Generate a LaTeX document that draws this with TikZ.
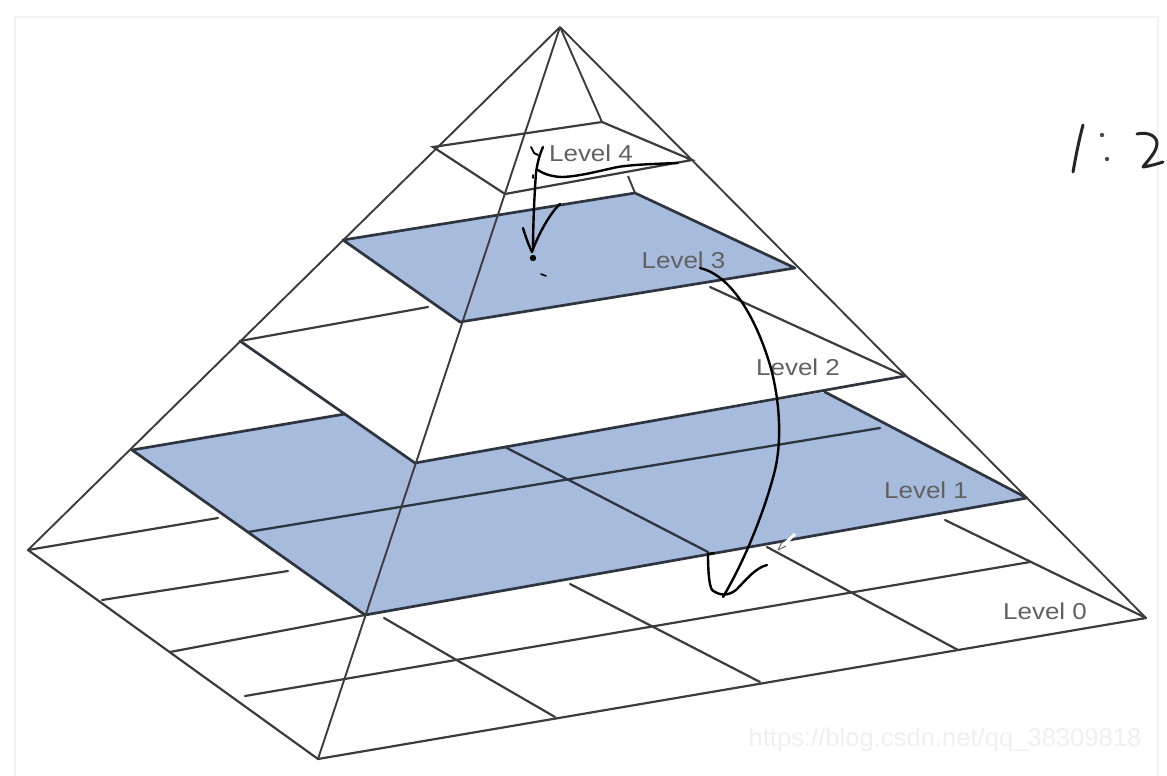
\documentclass[tikz,border=0pt]{standalone}
\usepackage{fontspec}
\setmainfont{Liberation Sans}
\definecolor{bluefill}{HTML}{A7BBDD}
\definecolor{gridline}{HTML}{3C3C3C}
\definecolor{blueline}{HTML}{2F3540}
\tikzset{
  gl/.style={draw=gridline,line width=2.2pt,line cap=round},
  bl/.style={draw=blueline,line width=2.7pt,line cap=round,line join=round},
  spoke/.style={draw=gridline,line width=1.9pt},
  levellabel/.style={text=black!62,font=\fontsize{23}{26}\selectfont,xscale=1.13},
  ink/.style={draw=black,line width=2.4pt,line cap=round,line join=round},
}
\begin{document}
\begin{tikzpicture}[x=1pt,y=-1pt]
\useasboundingbox (0,0) rectangle (1167,776);
\fill[white] (0,0) rectangle (1167,776);
\draw[black!5,line width=2pt] (15,776) -- (15,17) -- (1158,17) -- (1158,776);
% coordinates
\coordinate (A) at (560,27);
\coordinate (L0l) at (28,550);
\coordinate (L0f) at (318,759);
\coordinate (L0r) at (1146,618);
\coordinate (L1l) at (132,450);
\coordinate (L1f) at (365,615);
\coordinate (L1r) at (1027,498);
\coordinate (L1b) at (825,392);
\coordinate (L2l) at (240,341);
\coordinate (L2f) at (415,463);
\coordinate (L2r) at (905,376);
\coordinate (L2x) at (345,414);
\coordinate (L3l) at (343,240);
\coordinate (L3f) at (460,322);
\coordinate (L3r) at (795,268);
\coordinate (L3b) at (635,193);
\coordinate (L4l) at (433,147);
\coordinate (L4f) at (505,194);
\coordinate (L4r) at (692,160);
\coordinate (L4b) at (602,122);
% blue regions
\fill[bluefill] (L1l) -- (L1f) -- (L1r) -- (L1b) -- (L2f) -- (L2x) -- cycle;
\fill[bluefill] (L3l) -- (L3f) -- (L3r) -- (L3b) -- cycle;
% level 0
\draw[gl] (L0l) -- (L0f) -- (L0r);
\draw[gl] (L0l) -- (218,518);
\draw[gl] (102,600) -- (288,571);
\draw[gl] (170,652) -- (L1f);
\draw[gl] (245,696) -- (1030,562);
\draw[gl] (945,520) -- (L0r);
\draw[gl] (767,547) -- (958,650);
\draw[gl] (570,584) -- (760,682);
\draw[gl] (384,618) -- (555,717);
% level 1
\draw[bl] (L2x) -- (L1l) -- (L1f) -- (L1r) -- (L1b);
\draw[bl,line width=2.3pt] (248,532) -- (880,428);
\draw[bl,line width=2.3pt] (505,447) -- (708,552);
% level 2
\draw[bl] (L2l) -- (L2f) -- (L2r);
\draw[gl] (L2l) -- (428,307);
\draw[gl] (710,287) -- (L2r);
% level 3
\draw[bl] (L3l) -- (L3f) -- (L3r) -- (L3b) -- cycle;
% level 4
\draw[gl] (L4l) -- (L4f) -- (L4r) -- (L4b) -- cycle;
% spokes
\draw[spoke] (A) -- (L0l);
\draw[spoke] (A) -- (L0r);
\draw[spoke] (A) -- (L0f);
\draw[spoke] (A) -- (L4b);
\draw[spoke] (628,176) -- (L3b);
% labels
\node[levellabel] (t4) at (591,153) {Level 4};
\node[levellabel] (t3) at (683.5,260) {Level 3};
\node[levellabel] (t2) at (798,367) {Level 2};
\node[levellabel] (t1) at (926,490) {Level 1};
\node[levellabel] (t0) at (1045,611) {Level 0};
\node[text=black!6,font=\fontsize{25.6}{28}\selectfont] (wm) at (945,740) {https://blog.csdn.net/qq\_38309818};
% hand ink: level 4 to level 3
\draw[ink,line width=1.8pt] (531,147) -- (534,153) -- (538,155);
\draw[ink] (543,147) .. controls (539,156) and (537,165) .. (536,173) .. controls (534,200) and (533,230) .. (533,250);
\draw[ink] (538,170) .. controls (545,175) and (555,177) .. (563,177) .. controls (580,176) and (595,172) .. (613,168) .. controls (625,165) and (650,164) .. (678,163);
\draw[ink] (523,228) .. controls (526,238) and (529,246) .. (532,252) .. controls (536,240) and (548,215) .. (560,204);
\fill[black] (533,258) circle (3.2pt);
\draw[ink,line width=1.6pt] (541,274) -- (546,276);
\draw[ink,line width=1.4pt] (533,175) -- (533,178);
% hand ink: level 3 to level 1
\draw[ink] (700,268) .. controls (730,275) and (755,315) .. (770,365)
  .. controls (780,400) and (782,440) .. (775,470)
  .. controls (765,510) and (745,560) .. (723,597);
\draw[ink] (714,553) -- (708,554) .. controls (708,570) and (709,585) .. (712,590)
  .. controls (720,596) and (728,596) .. (736,590)
  .. controls (746,580) and (755,568) .. (767,565);
% cursor
\draw[white,line width=3pt] (795,534) -- (780,548);
\draw[black!60,line width=1pt] (778,550) -- (786,546);
\draw[black!60,line width=1pt] (778,550) -- (782,542);
% 1:2
\draw[ink,draw=black!85,line width=3pt] (1083,125) .. controls (1079,140) and (1076,155) .. (1073,172);
\fill[black!70] (1102,135) circle (2.2pt);
\fill[black!70] (1107,159) circle (2.2pt);
\draw[ink,draw=black!85,line width=3pt] (1137,134) .. controls (1145,132) and (1156,134) .. (1157,143) .. controls (1157,152) and (1148,160) .. (1143,167) .. controls (1150,166) and (1157,164) .. (1163,162);
\end{tikzpicture}
\end{document}
